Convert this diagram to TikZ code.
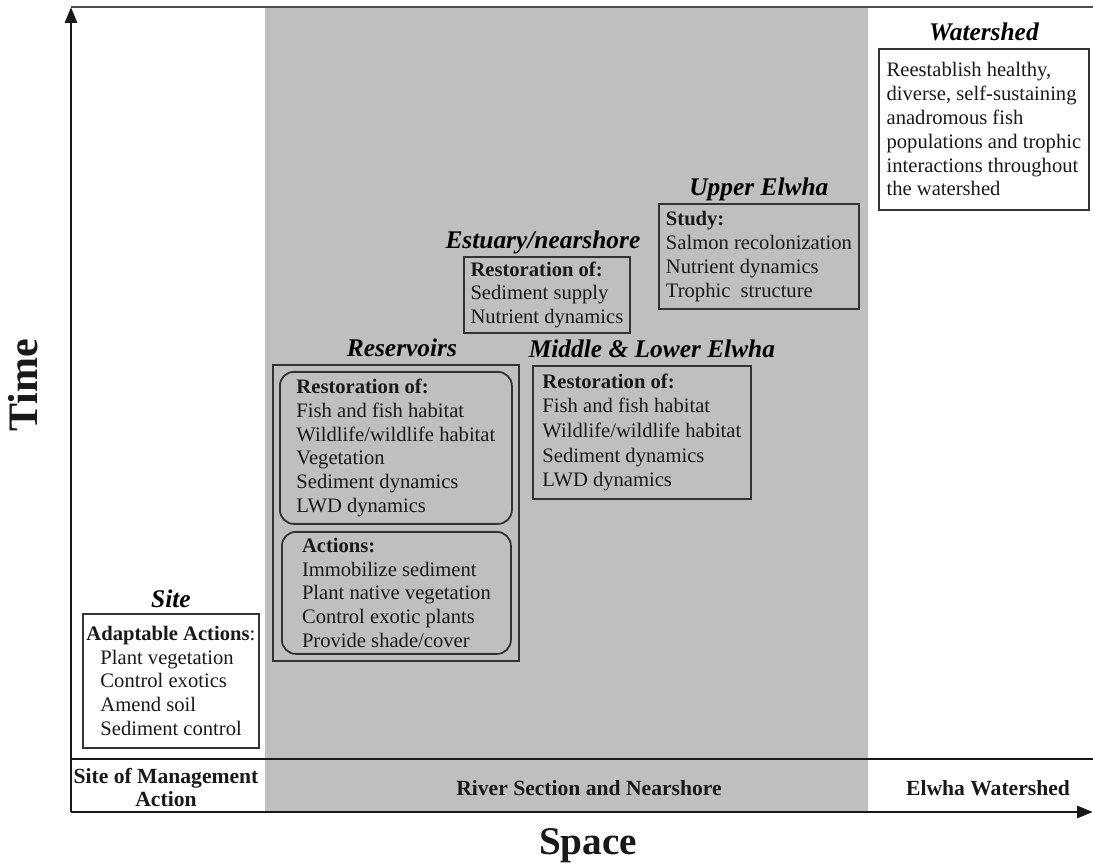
\documentclass[tikz,border=0pt]{standalone}
\usepackage{fontspec}
\setmainfont{Liberation Serif}
\usetikzlibrary{positioning,fit,arrows.meta}

\begin{document}
\begin{tikzpicture}[x=0.5pt, y=-0.5pt,
    panel/.style={draw=black!80, line width=0.9pt, align=left, anchor=north west, inner sep=0pt,
        text=black!90, font=\fontsize{10.3}{11.9}\selectfont},
    rpanel/.style={panel, rounded corners=7pt},
    heading/.style={font=\fontsize{12.7}{14}\selectfont\bfseries\itshape, inner sep=0pt,
        text height=9pt, text depth=2.5pt},
    sectlabel/.style={font=\fontsize{10.8}{11.5}\selectfont\bfseries, align=center, text=black!90},
    bigword/.style={font=\fontsize{21}{24}\selectfont\bfseries, text=black!90},
    axis/.style={line width=1.4pt, draw=black!90, -{Triangle[length=8pt,width=6pt]}}]
    \useasboundingbox (0,0) rectangle (1093,865);
    \fill[black!25] (265,7) rectangle (868,812);

    \coordinate (O) at (71,812);
    \coordinate (ytop) at (71,7);
    \coordinate (xend) at (1093,812);
    \coordinate (topr) at (1093,7);
    \coordinate (midl) at (71,759);
    \coordinate (midr) at (1093,759);
    \draw[black!70, line width=0.7pt] (ytop) -- (topr);
    \draw[black!90, line width=1.4pt] (midl) -- (midr);
    \draw[axis] (O) -- (ytop);
    \draw[axis] (O) -- (xend);

    \node[sectlabel] (sma) at (166,788) {Site of Management\\Action};
    \node[sectlabel] (rsn) at (589,788) {River Section and Nearshore};
    \node[sectlabel] (ews) at (988,788) {Elwha Watershed};
    \node[bigword, rotate=90] (time) at (23,385) {Time};
    \node[bigword, font=\fontsize{19.6}{22}\selectfont\bfseries] (space) at (588,846) {Space};

    \node[panel, fill=white, minimum width=88pt, minimum height=67pt] (site) at (82,613)
        {\textbf{Adaptable Actions}:\\
         \hspace*{7pt}Plant vegetation\\
         \hspace*{7pt}Control exotics\\
         \hspace*{7pt}Amend soil\\
         \hspace*{7pt}Sediment control};
    \node[heading, above=0pt of site] (sitet) {Site};

    \node[rpanel, minimum width=116pt, minimum height=76pt] (res1) at (279,371)
        {\textbf{Restoration of:}\\ Fish and fish habitat\\ Wildlife/wildlife habitat\\
         Vegetation\\ Sediment dynamics\\ LWD dynamics};
    \node[rpanel, minimum width=114.5pt, minimum height=61pt] (res2) at (281,531)
        {\textbf{Actions:}\\ Immobilize sediment\\ Plant native vegetation\\
         Control exotic plants\\ Provide shade/cover};
    \node[draw=black!80, line width=0.9pt, inner sep=3pt, fit=(res1)(res2)] (resbox) {};
    \node[heading, above=1pt of resbox, xshift=3pt] (rest) {Reservoirs};

    \node[panel, minimum width=109pt, minimum height=66.5pt,
        font=\fontsize{10.3}{12.3}\selectfont] (mid) at (532,365)
        {\textbf{Restoration of:}\\ Fish and fish habitat\\ Wildlife/wildlife habitat\\
         Sediment dynamics\\ LWD dynamics};
    \node[heading, above=1pt of mid, xshift=5pt] (midt) {Middle \& Lower Elwha};

    \node[panel, minimum width=83pt, minimum height=38pt] (est) at (463,256)
        {\textbf{Restoration of:}\\ Sediment supply\\ Nutrient dynamics};
    \node[heading, above=1pt of est, xshift=-2pt] (estt) {Estuary/nearshore};

    \node[panel, minimum width=100pt, minimum height=52.5pt] (upper) at (658,203)
        {\textbf{Study:}\\ Salmon recolonization\\ Nutrient dynamics\\ Trophic~ structure};
    \node[heading, above=1pt of upper] (uppert) {Upper Elwha};

    \node[panel, fill=white, minimum width=105pt, minimum height=80.5pt] (wshed) at (878,48)
        {Reestablish healthy,\\ diverse, self-sustaining\\ anadromous fish\\
         populations and trophic\\ interactions throughout\\ the watershed};
    \node[heading, above=1pt of wshed] (wshedt) {Watershed};
\end{tikzpicture}
\end{document}
